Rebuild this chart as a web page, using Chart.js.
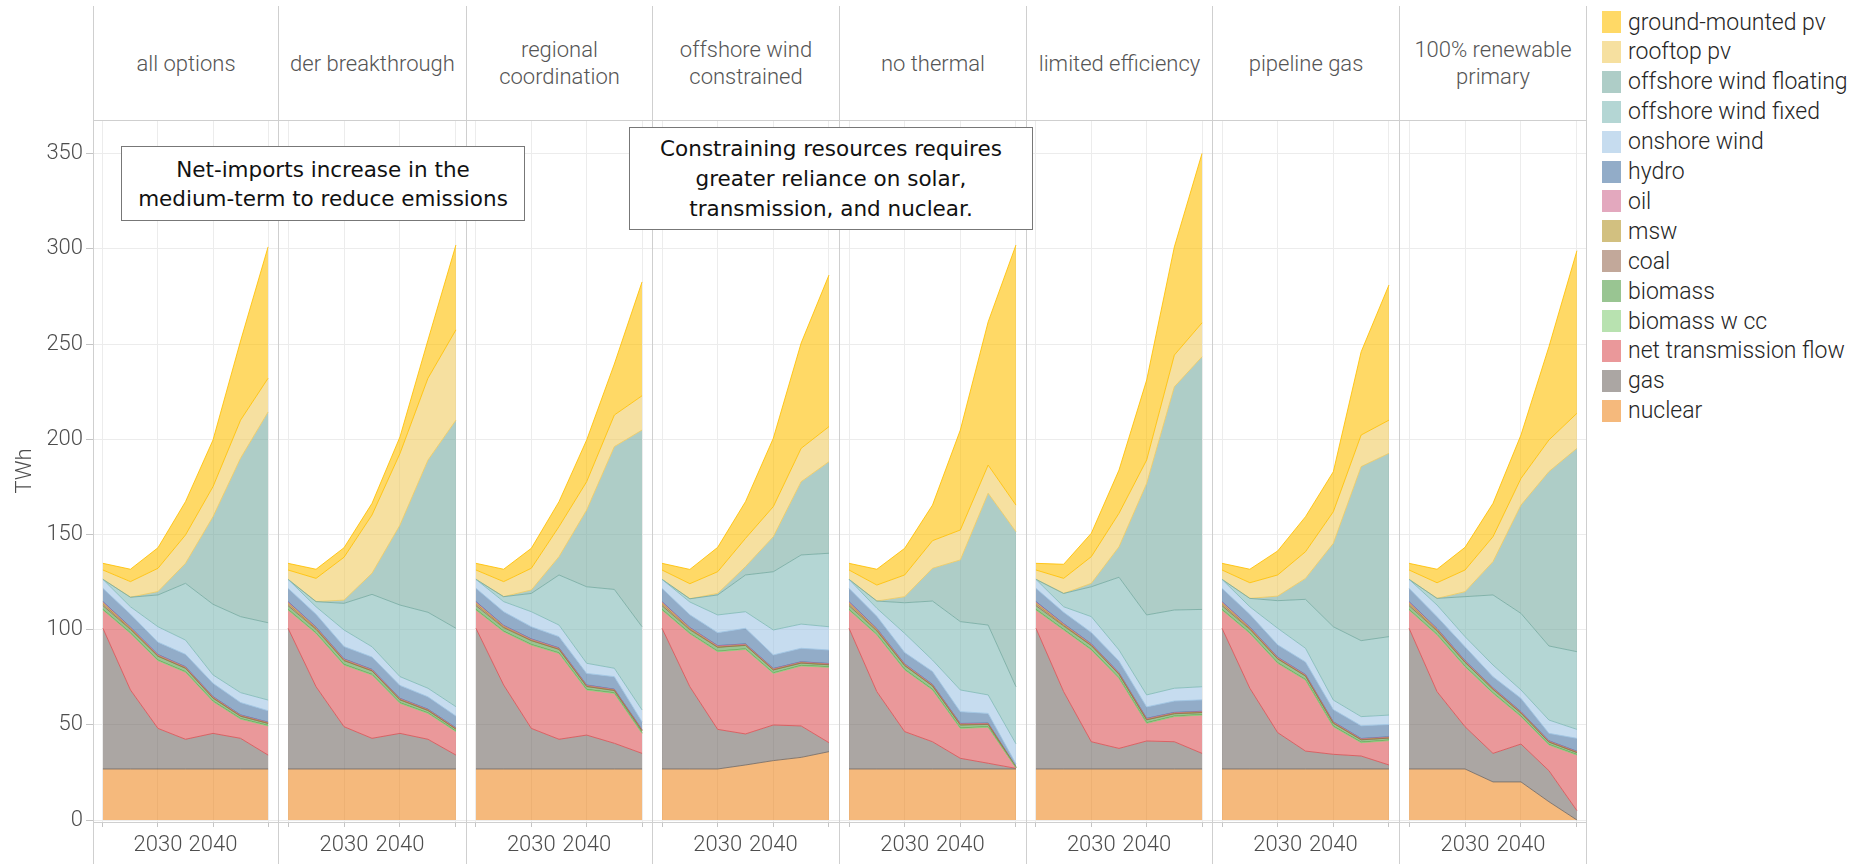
<!DOCTYPE html>
<html>
<head>
<meta charset="utf-8">
<script src="https://cdn.jsdelivr.net/npm/chart.js@4.4.1/dist/chart.umd.min.js"></script>
<style>
  body { margin: 0; background: #fff; }
  #page { position: relative; width: 1852px; height: 864px; overflow: hidden; font-family: Roboto, sans-serif; }
  .strip { position: absolute; top: 6px; height: 114px; box-sizing: border-box; border-left: 1px solid #cfcfcf;
           display: flex; align-items: center; justify-content: center; text-align: center; white-space: pre-line;
           color: #555; font-weight: 300; font-size: 22px; line-height: 27px; }
  .panel { position: absolute; top: 120px; }
  .note { position: absolute; box-sizing: border-box; border: 1.5px solid #777; background: #fff;
          font-family: "DejaVu Sans", sans-serif; font-size: 21.5px; color: #111;
          display: flex; align-items: center; justify-content: center; text-align: center; white-space: pre-line; }
  .key { position: absolute; left: 1602px; height: 22px; display: flex; align-items: center;
         font-weight: 300; font-size: 23px; color: #262626; white-space: nowrap; }
  .key span { display: inline-block; width: 19px; height: 22px; margin-right: 7px; }
</style>
</head>
<body>
<div id="page"></div>
<script>
// --- DATA --- //
const years = [2020, 2025, 2030, 2035, 2040, 2045, 2050];
const xGridYears = [2020, 2030, 2040, 2050];
const xLabelYears = [2030, 2040];
const yTicks = [0, 50, 100, 150, 200, 250, 300, 350];

// stack order, bottom to top
const techs = ["nuclear", "gas", "net transmission flow", "biomass w cc", "biomass", "coal", "msw", "oil",
  "hydro", "onshore wind", "offshore wind fixed", "offshore wind floating", "rooftop pv", "ground-mounted pv"];

// rows follow techs order, columns follow years (TWh)
const allOptions = [
  [26.8, 26.8, 26.8, 26.8, 26.8, 26.8, 26.8],
  [73.9, 41.5, 21.3, 15.6, 18.7, 16.1, 7.3],
  [9.6, 29.7, 35.6, 35.2, 16.7, 10.1, 15.3],
  [0.3, 0.3, 0.3, 0.3, 0.3, 0.3, 0.3],
  [2.0, 1.8, 2.0, 1.8, 1.5, 1.2, 1.0],
  [1.0, 0.4, 0.1, 0.1, 0.1, 0.1, 0.1],
  [0.8, 0.6, 0.6, 0.5, 0.5, 0.4, 0.4],
  [0.3, 0.2, 0.2, 0.2, 0.2, 0.2, 0.2],
  [7.0, 6.8, 6.5, 6.5, 7.0, 6.5, 6.0],
  [4.7, 3.9, 8.1, 7.5, 4.4, 5.2, 5.6],
  [0, 5.0, 16.7, 29.8, 37.1, 39.9, 40.6],
  [0, 0, 1.8, 10.5, 46.0, 83.2, 110.7],
  [4.9, 8.2, 12.2, 14.9, 15.8, 20.0, 17.7],
  [3.5, 6.5, 10.8, 17.5, 24.5, 41.6, 69.0]
];
const derBreakthrough = [
  [26.8, 26.8, 26.8, 26.8, 26.8, 26.8, 26.8],
  [73.9, 43.2, 22.2, 16.1, 18.7, 15.6, 7.3],
  [9.6, 28.0, 32.4, 33.3, 15.8, 13.6, 12.3],
  [0.3, 0.3, 0.3, 0.3, 0.3, 0.3, 0.3],
  [2.0, 1.8, 2.0, 1.8, 1.5, 1.2, 1.0],
  [1.0, 0.4, 0.1, 0.1, 0.1, 0.1, 0.1],
  [0.8, 0.6, 0.6, 0.5, 0.5, 0.4, 0.4],
  [0.3, 0.2, 0.2, 0.2, 0.2, 0.2, 0.2],
  [7.0, 6.8, 6.5, 6.5, 6.8, 6.5, 6.2],
  [4.7, 3.9, 8.7, 5.4, 4.6, 4.5, 4.9],
  [0, 2.7, 14.0, 27.5, 37.6, 39.9, 41.2],
  [0, 0, 1.7, 11.1, 42.0, 79.9, 109.3],
  [4.9, 12.2, 22.5, 30.6, 37.6, 43.0, 47.4],
  [3.5, 4.8, 5.0, 6.1, 8.7, 20.0, 44.6]
];
const regionalCoordination = [
  [26.8, 26.8, 26.8, 26.8, 26.8, 26.8, 26.8],
  [73.9, 44.1, 21.3, 15.6, 17.8, 13.5, 8.2],
  [9.6, 28.0, 43.8, 45.1, 23.7, 26.2, 10.5],
  [0.3, 0.3, 0.3, 0.3, 0.3, 0.3, 0.3],
  [2.0, 1.8, 2.0, 1.8, 1.5, 1.2, 1.0],
  [1.0, 0.4, 0.1, 0.1, 0.1, 0.1, 0.1],
  [0.8, 0.6, 0.6, 0.5, 0.5, 0.4, 0.4],
  [0.3, 0.2, 0.2, 0.2, 0.2, 0.2, 0.2],
  [7.0, 7.2, 6.4, 5.9, 6.1, 6.6, 4.1],
  [4.7, 5.3, 7.9, 6.1, 5.3, 4.4, 6.2],
  [0, 2.6, 9.6, 26.3, 40.2, 41.4, 43.7],
  [0, 0, 1.8, 9.6, 40.3, 75.0, 103.3],
  [4.9, 7.9, 11.4, 15.8, 14.9, 16.6, 18.0],
  [3.5, 6.5, 10.5, 13.1, 21.9, 26.8, 59.8]
];
const offshoreConstrained = [
  [26.8, 26.8, 26.8, 28.9, 31.2, 32.9, 35.9],
  [73.9, 43.2, 20.8, 16.3, 18.7, 16.5, 4.7],
  [9.6, 27.8, 40.8, 44.4, 27.1, 31.5, 39.6],
  [0.3, 0.3, 0.3, 0.3, 0.3, 0.3, 0.3],
  [2.0, 1.8, 2.0, 1.8, 1.5, 1.2, 1.0],
  [1.0, 0.4, 0.1, 0.1, 0.1, 0.1, 0.1],
  [0.8, 0.6, 0.6, 0.5, 0.5, 0.4, 0.4],
  [0.3, 0.2, 0.2, 0.2, 0.2, 0.2, 0.2],
  [7.0, 6.7, 6.8, 8.2, 7.1, 7.1, 7.1],
  [4.7, 6.7, 9.3, 8.7, 13.1, 12.7, 12.2],
  [0, 1.7, 10.5, 19.3, 30.6, 36.3, 38.6],
  [0, 0, 0.8, 4.4, 18.4, 38.5, 48.1],
  [4.9, 7.9, 11.4, 14.8, 15.8, 17.5, 18.4],
  [3.5, 7.5, 12.8, 19.3, 35.9, 55.3, 79.6]
];
const noThermal = [
  [26.8, 26.8, 26.8, 26.8, 26.8, 26.8, 26.8],
  [73.9, 40.6, 19.6, 14.3, 5.6, 3.0, 0.3],
  [9.6, 29.8, 32.4, 27.2, 15.7, 18.9, 0.3],
  [0.3, 0.3, 0.3, 0.3, 0.3, 0.3, 0.1],
  [2.0, 1.8, 2.0, 1.8, 1.5, 1.2, 0.2],
  [1.0, 0.4, 0.1, 0.1, 0.1, 0.1, 0],
  [0.8, 0.6, 0.6, 0.5, 0.5, 0.4, 0.1],
  [0.3, 0.2, 0.2, 0.2, 0.2, 0.2, 0.1],
  [7.0, 6.5, 6.0, 6.8, 6.2, 5.1, 1.6],
  [4.7, 4.2, 10.0, 6.0, 11.4, 9.7, 10.5],
  [0, 3.8, 16.1, 31.0, 35.9, 36.7, 30.0],
  [0, 0, 3.2, 17.2, 32.4, 69.2, 81.4],
  [4.9, 8.4, 11.4, 14.5, 15.7, 14.8, 14.0],
  [3.5, 8.3, 14.0, 18.7, 52.5, 75.2, 136.6]
];
const limitedEfficiency = [
  [26.8, 26.8, 26.8, 26.8, 26.8, 26.8, 26.8],
  [73.9, 40.6, 14.3, 10.8, 14.7, 14.3, 8.2],
  [9.6, 32.4, 48.2, 36.8, 9.3, 13.2, 20.1],
  [0.3, 0.3, 0.3, 0.3, 0.3, 0.3, 0.3],
  [2.0, 1.8, 2.0, 1.8, 1.5, 1.2, 1.0],
  [1.0, 0.4, 0.1, 0.1, 0.1, 0.1, 0.1],
  [0.8, 0.6, 0.6, 0.5, 0.5, 0.4, 0.4],
  [0.3, 0.2, 0.2, 0.2, 0.2, 0.2, 0.2],
  [7.0, 6.0, 6.0, 6.2, 6.0, 6.0, 6.0],
  [4.7, 2.9, 8.3, 5.8, 6.3, 6.7, 6.9],
  [0, 7.0, 15.7, 38.2, 42.0, 41.1, 40.6],
  [0, 0, 1.8, 16.0, 69.1, 117.2, 132.7],
  [4.9, 7.9, 14.0, 17.6, 12.3, 16.7, 17.8],
  [3.5, 7.4, 12.3, 22.7, 42.0, 56.8, 89.0]
];
const pipelineGas = [
  [26.8, 26.8, 26.8, 26.8, 26.8, 26.8, 26.8],
  [73.9, 42.4, 19.1, 9.4, 7.7, 6.8, 2.1],
  [9.6, 28.8, 36.4, 37.3, 14.5, 7.0, 12.8],
  [0.3, 0.3, 0.3, 0.3, 0.3, 0.3, 0.3],
  [2.0, 1.8, 2.0, 1.8, 1.5, 1.2, 1.0],
  [1.0, 0.4, 0.1, 0.1, 0.1, 0.1, 0.1],
  [0.8, 0.6, 0.6, 0.5, 0.5, 0.4, 0.4],
  [0.3, 0.2, 0.2, 0.2, 0.2, 0.2, 0.2],
  [7.0, 6.7, 6.5, 6.6, 6.4, 6.7, 6.5],
  [4.7, 4.0, 8.7, 7.2, 5.0, 4.8, 4.9],
  [0, 4.4, 14.5, 25.7, 38.5, 39.9, 41.2],
  [0, 0, 2.4, 11.0, 43.8, 91.4, 96.3],
  [4.9, 8.2, 11.1, 14.0, 16.6, 16.6, 17.4],
  [3.5, 7.1, 12.6, 18.4, 21.0, 43.7, 71.0]
];
const renewablePrimary = [
  [26.8, 26.8, 26.8, 20.0, 20.0, 9.6, 0],
  [73.9, 40.6, 22.2, 15.0, 19.9, 16.3, 4.9],
  [9.6, 29.8, 31.5, 31.5, 14.4, 13.5, 29.2],
  [0.3, 0.3, 0.3, 0.3, 0.3, 0.3, 0.3],
  [2.0, 1.8, 2.0, 1.8, 1.5, 1.2, 1.0],
  [1.0, 0.4, 0.1, 0.1, 0.1, 0.1, 0.1],
  [0.8, 0.6, 0.6, 0.5, 0.5, 0.4, 0.4],
  [0.3, 0.2, 0.2, 0.2, 0.2, 0.2, 0.2],
  [7.0, 6.3, 7.3, 5.9, 7.0, 3.9, 6.8],
  [4.7, 6.1, 5.3, 6.1, 4.4, 7.0, 4.7],
  [0, 3.5, 21.0, 36.8, 40.2, 38.9, 40.8],
  [0, 0, 2.6, 17.5, 56.9, 91.6, 106.8],
  [4.9, 8.2, 11.4, 13.1, 14.0, 16.6, 18.4],
  [3.5, 7.1, 11.9, 17.5, 22.8, 49.0, 85.4]
];

const facetNames = ["all options", "der breakthrough", "regional\ncoordination", "offshore wind\nconstrained",
  "no thermal", "limited efficiency", "pipeline gas", "100% renewable\nprimary"];
const facetData = [allOptions, derBreakthrough, regionalCoordination, offshoreConstrained,
  noThermal, limitedEfficiency, pipelineGas, renewablePrimary];

// --- STYLE --- //
const baseColors = [
  [238, 138, 37], [115, 107, 102], [220, 83, 87], [137, 207, 123], [85, 158, 73], [153, 110, 87],
  [180, 150, 43], [208, 110, 147], [73, 117, 163], [160, 197, 228], [130, 187, 183], [120, 172, 162],
  [240, 203, 97], [255, 192, 0]
];
const rgba = (c, a) => `rgba(${c[0]},${c[1]},${c[2]},${a})`;

const edges = [93, 278, 466, 652, 839, 1026, 1212, 1399, 1586];
const page = document.getElementById("page");
Chart.defaults.font.family = "Roboto";

// border around each panel, carried down through the axis strip
const panelBox = {
  id: "panelBox",
  afterDraw(chart, args, opts) {
    const { ctx, chartArea: a } = chart;
    ctx.save();
    ctx.strokeStyle = "#cfcfcf";
    ctx.lineWidth = 1;
    ctx.beginPath();
    ctx.moveTo(a.left, a.top + 0.5); ctx.lineTo(a.right, a.top + 0.5);
    ctx.moveTo(a.left, a.bottom + 0.5); ctx.lineTo(a.right, a.bottom + 0.5);
    ctx.moveTo(a.left + 0.5, a.top); ctx.lineTo(a.left + 0.5, chart.height);
    if (opts.right) { ctx.moveTo(a.right - 0.5, a.top); ctx.lineTo(a.right - 0.5, chart.height); }
    ctx.stroke();
    ctx.restore();
  }
};

facetData.forEach((rows, i) => {
  const first = i === 0;
  const last = i === facetData.length - 1;

  // strip header
  const strip = document.createElement("div");
  strip.className = "strip";
  strip.style.left = edges[i] + "px";
  strip.style.width = (edges[i + 1] - edges[i] + (last ? 1 : 0)) + "px";
  if (last) strip.style.borderRight = "1px solid #cfcfcf";
  strip.textContent = facetNames[i];
  page.appendChild(strip);

  // panel canvas (first one also holds the y axis)
  const left = first ? 0 : edges[i];
  const width = edges[i + 1] - left + (last ? 1 : 0);
  const cv = document.createElement("canvas");
  cv.className = "panel";
  cv.style.left = left + "px";
  cv.width = width;
  cv.height = 744;
  page.appendChild(cv);

  new Chart(cv, {
    type: "line",
    data: {
      datasets: techs.map((t, k) => ({
        label: t,
        data: years.map((yr, j) => ({ x: yr, y: rows[k][j] })),
        backgroundColor: rgba(baseColors[k], 0.6),
        borderColor: rgba(baseColors[Math.min(k + 1, techs.length - 1)], 0.85),
        borderWidth: 1,
        fill: k === 0 ? "origin" : "-1",
        pointRadius: 0,
        tension: 0,
      })),
    },
    options: {
      responsive: false,
      animation: false,
      devicePixelRatio: 1,
      layout: { padding: 0 },
      plugins: { legend: { display: false }, tooltip: { enabled: false }, panelBox: { right: last } },
      scales: {
        x: {
          type: "linear",
          min: 2018.2,
          max: 2051.8,
          afterBuildTicks: (s) => { s.ticks = xGridYears.map((v) => ({ value: v })); },
          afterFit: (s) => { s.height = 42; s.paddingLeft = 0; s.paddingRight = 0; },
          ticks: {
            autoSkip: false, maxRotation: 0, padding: 5, color: "#4d4d4d",
            font: { size: 22, weight: 300 },
            callback: (v) => (xLabelYears.includes(v) ? String(v) : ""),
          },
          grid: { color: "#ececec", tickColor: "#c4c4c4", tickLength: 5 },
          border: { display: false },
        },
        y: {
          stacked: true,
          min: -1.05,
          max: 367.65,
          afterBuildTicks: (s) => { s.ticks = yTicks.map((v) => ({ value: v })); },
          afterFit: (s) => { s.width = first ? 93 : 0; s.paddingTop = 0; s.paddingBottom = 0; },
          ticks: { display: first, padding: 3, color: "#4d4d4d", font: { size: 22, weight: 300 } },
          grid: { color: "#ececec", tickColor: "#c4c4c4", tickLength: 7, drawTicks: first },
          border: { display: false },
          title: {
            display: first, text: "TWh", color: "#4d4d4d",
            font: { size: 22, weight: 300 }, padding: { top: 12, bottom: 0 },
          },
        },
      },
    },
    plugins: [panelBox],
  });
});

// --- ANNOTATIONS --- //
const notes = [
  { text: "Net-imports increase in the\nmedium-term to reduce emissions", x: 121, y: 146, w: 404, h: 75, lh: 29 },
  { text: "Constraining resources requires\ngreater reliance on solar,\ntransmission, and nuclear.", x: 629, y: 127, w: 404, h: 103, lh: 30 },
];
notes.forEach((n) => {
  const d = document.createElement("div");
  d.className = "note";
  Object.assign(d.style, { left: n.x + "px", top: n.y + "px", width: n.w + "px", height: n.h + "px", lineHeight: n.lh + "px" });
  d.textContent = n.text;
  page.appendChild(d);
});

// --- LEGEND --- //
techs.slice().reverse().forEach((t, r) => {
  const k = techs.length - 1 - r;
  const row = document.createElement("div");
  row.className = "key";
  row.style.top = (11 + r * 29.9) + "px";
  const sw = document.createElement("span");
  sw.style.background = rgba(baseColors[k], 0.6);
  row.appendChild(sw);
  row.appendChild(document.createTextNode(t));
  page.appendChild(row);
});
</script>
</body>
</html>
